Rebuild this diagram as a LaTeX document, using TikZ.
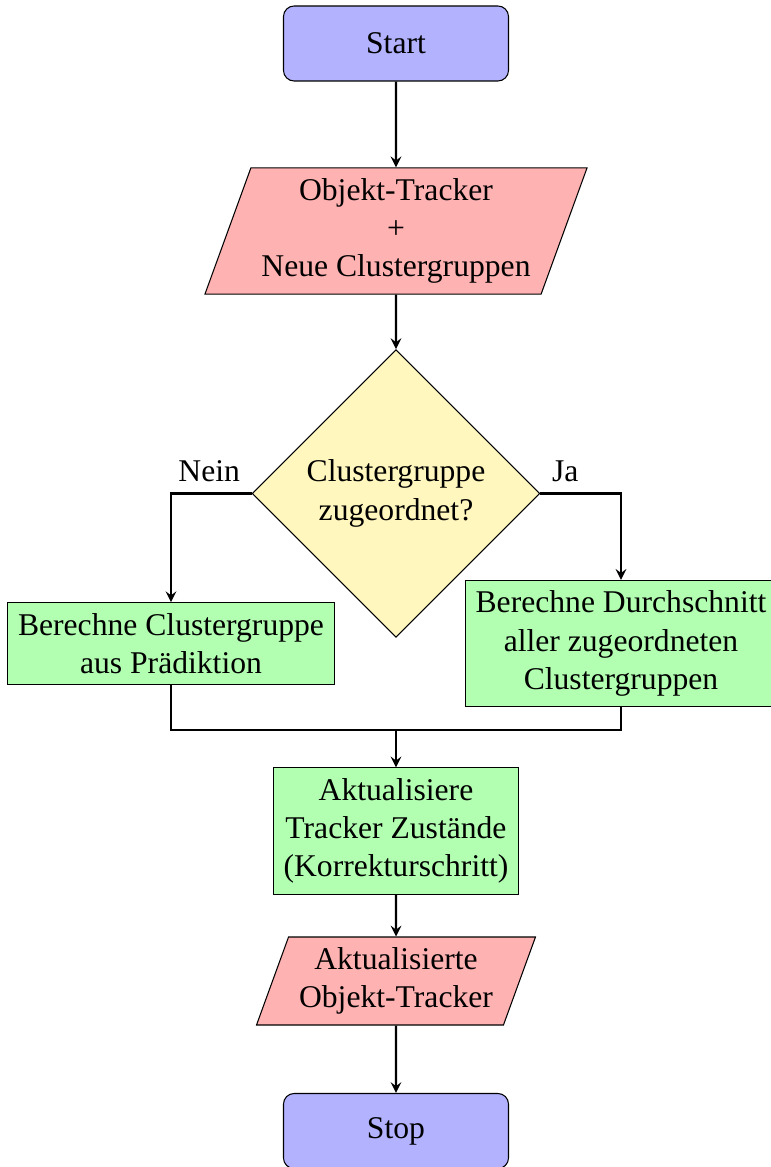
\documentclass[tikz,border=0pt,12pt]{standalone}
\usepackage{fontspec}
\setmainfont{Liberation Serif}
\usepackage{tikz}
\usetikzlibrary{positioning}
\usetikzlibrary{shapes.geometric}
\usetikzlibrary{arrows}

\definecolor{decisionfill}{RGB}{255,247,190}

\tikzset{
	startstop/.style={rectangle, rounded corners, minimum width=3cm, minimum height=1cm, align=center, draw=black, fill=blue!30},
	io/.style={trapezium, trapezium left angle=70, trapezium right angle=110, minimum width=3cm, minimum height=1cm, align=center, draw=black, fill=red!30},
	process/.style={rectangle, minimum width=3cm, minimum height=1cm, align=center, draw=black, fill=green!30},
	decision/.style={diamond, minimum width=3cm, minimum height=1cm, align=center, draw=black, fill=decisionfill},
	arrow/.style={thick, ->, >=stealth}
}

\begin{document}
\begin{tikzpicture}[on grid]
	\useasboundingbox (-5.28,0.58) rectangle (4.987,-14.98);
	
	% Input and decision
	\node [startstop] at (0,0) (start) {Start};
	\node [io, below=2.5cm of start] (tracker) {Objekt-Tracker\\+\\Neue Clustergruppen};
	\node [decision, below=3.5cm of tracker] (assigned) {Clustergruppe\\zugeordnet?};
	
	% Both branches
	\node [process, below left=2cm and 3cm of assigned] (predict) {Berechne Clustergruppe\\aus Prädiktion};
	\node [process, below right=2cm and 3cm of assigned] (average) {Berechne Durchschnitt\\aller zugeordneten\\Clustergruppen};
	
	% Correction and output
	\node [process, below=4.5cm of assigned] (update) {Aktualisiere\\Tracker Zustände\\(Korrekturschritt)};
	\coordinate [above=0.5cm of update.north] (join);
	\node [io, below=2cm of update] (output) {Aktualisierte\\Objekt-Tracker};
	\node [startstop, below=2cm of output] (stop) {Stop};
	
	% Connections
	\draw [arrow] (start) -- (tracker);
	\draw [arrow] (tracker) -- (assigned);
	\draw [arrow] (assigned.west) node [above left] {Nein} -| (predict);
	\draw [arrow] (assigned.east) node [above right] {Ja} -| (average);
	\draw [thick] (predict) |- (join);
	\draw [thick] (average) |- (join);
	\draw [arrow] (join) -- (update);
	\draw [arrow] (update) -- (output);
	\draw [arrow] (output) -- (stop);
	
\end{tikzpicture}
\end{document}
